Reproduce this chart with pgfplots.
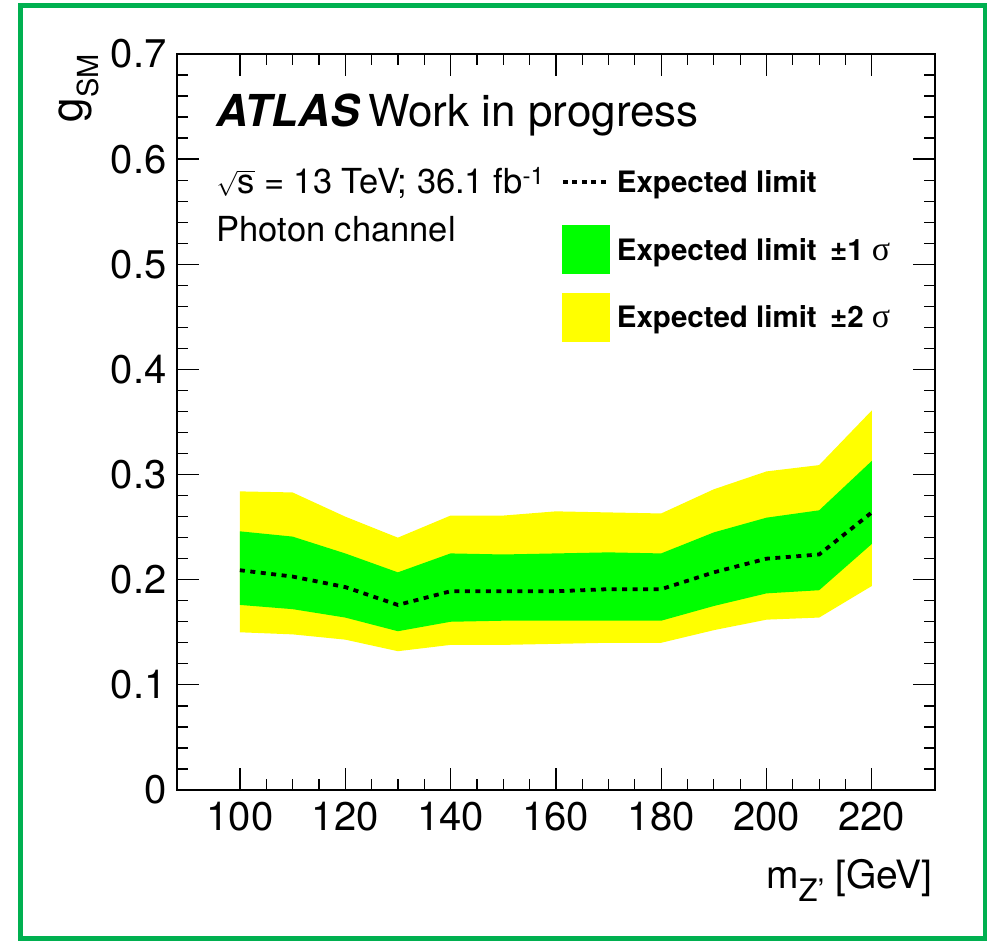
\documentclass[border=0pt]{standalone}
\usepackage{fontspec}
\setmainfont{TeX Gyre Heros}
\newfontfamily\sigmafont{Liberation Serif}
\usepackage{pgfplots}
\pgfplotsset{compat=1.18}
\usepgfplotslibrary{fillbetween}
\usepackage{pgfplotstable}

\definecolor{framegreen}{RGB}{0,176,80}
\definecolor{bandone}{RGB}{0,255,0}
\definecolor{bandtwo}{RGB}{255,255,0}

% expected limit on g_SM vs m_Z' (GeV)
\pgfplotstableread{
m    y2lo   y1lo   med    y1hi   y2hi
100  0.150  0.176  0.209  0.246  0.284
110  0.148  0.172  0.203  0.241  0.283
120  0.143  0.164  0.193  0.225  0.260
130  0.132  0.151  0.176  0.207  0.240
140  0.138  0.160  0.189  0.225  0.261
150  0.138  0.161  0.189  0.224  0.261
160  0.139  0.161  0.189  0.225  0.265
170  0.140  0.161  0.191  0.226  0.264
180  0.140  0.161  0.191  0.225  0.263
190  0.152  0.175  0.207  0.245  0.286
200  0.162  0.187  0.220  0.259  0.303
210  0.164  0.190  0.224  0.266  0.309
220  0.194  0.234  0.264  0.313  0.361
}\explim

\begin{document}
\begin{tikzpicture}
\path (0pt,0pt) rectangle (991pt,941pt);
\draw[framegreen, line width=4.5pt] (20.5pt,2.5pt) rectangle (985pt,935.3pt);
\begin{axis}[
  at={(176.7pt,151pt)}, anchor=south west,
  scale only axis, width=758.3pt, height=736pt,
  xmin=88, xmax=232, ymin=0, ymax=0.7,
  xtick={100,120,140,160,180,200,220},
  ytick={0,0.1,0.2,0.3,0.4,0.5,0.6,0.7},
  minor x tick num=3, minor y tick num=4,
  tick align=inside,
  major tick length=22pt, minor tick length=11pt,
  axis line style={line width=1.7pt},
  every tick/.style={black, line width=1.3pt},
  /pgf/number format/assume math mode=true,
  tick label style={font=\fontsize{40}{40}\selectfont, inner sep=0pt},
  yticklabel style={xshift=-10pt},
  xticklabel style={yshift=-12pt},
  xlabel={m\raisebox{-13.5pt}{\fontsize{31}{31}\selectfont Z’}~[GeV]},
  xlabel style={at={(axis description cs:0.99736,-0.1332)}, anchor=base east,
    inner sep=0pt, font=\fontsize{39}{39}\selectfont},
  ylabel={g\raisebox{-16pt}{\fontsize{29}{29}\selectfont SM}},
  ylabel style={at={(axis description cs:-0.1236,1)}, anchor=base east,
    inner sep=0pt, font=\fontsize{44}{44}\selectfont},
  legend style={draw=none, fill=none, at={(0.5068,0.859)}, anchor=north west,
    inner sep=0pt, outer sep=0pt, row sep=18.7pt, column sep=7pt,
    cells={anchor=west}, nodes={inner sep=0pt, outer sep=0pt},
    font=\fontsize{29.5}{29.5}\selectfont\bfseries},
  legend cell align=left,
  reverse legend,
]
\addplot[name path=u2, draw=none, forget plot] table[x=m, y=y2hi]{\explim};
\addplot[name path=l2, draw=none, forget plot] table[x=m, y=y2lo]{\explim};
\addplot[name path=u1, draw=none, forget plot] table[x=m, y=y1hi]{\explim};
\addplot[name path=l1, draw=none, forget plot] table[x=m, y=y1lo]{\explim};

\addplot[fill=bandtwo, draw=none,
  legend image code/.code={\fill[bandtwo] (0pt,-24.5pt) rectangle (48pt,24.5pt);}]
  fill between[of=u2 and l2];
\addlegendentry{Expected limit\hspace{0.45em}±2 {\sigmafont\mdseries\fontsize{34}{34}\selectfont σ}}

\addplot[fill=bandone, draw=none,
  legend image code/.code={\fill[bandone] (0pt,-24.5pt) rectangle (48pt,24.5pt);}]
  fill between[of=u1 and l1];
\addlegendentry{Expected limit\hspace{0.45em}±1 {\sigmafont\mdseries\fontsize{34}{34}\selectfont σ}}

\addplot[black, line width=3.8pt, dash pattern=on 5pt off 5.5pt,
  legend image code/.code={\path[draw=none, fill=none] (0pt,-24.5pt) rectangle (48pt,24.5pt);
    \draw[black, line width=3.8pt, dash pattern=on 5pt off 4.5pt] (1pt,0pt) -- (46pt,0pt);}]
  table[x=m, y=med]{\explim};
\addlegendentry{Expected limit}

\node[anchor=base west, inner sep=0pt, font=\fontsize{44}{44}\selectfont]
  at (axis description cs:0.0525,0.9008) {\textbf{\textit{ATLAS}}\hspace{8pt}Work in progress};
\node[anchor=base west, inner sep=0pt, font=\fontsize{34.5}{35}\selectfont]
  at (axis description cs:0.0525,0.8105) {$\sqrt{\mbox{s}}$ = 13 TeV; 36.1 fb\textsuperscript{-1}};
\node[anchor=base west, inner sep=0pt, font=\fontsize{34.5}{35}\selectfont]
  at (axis description cs:0.0525,0.7459) {Photon channel};
\end{axis}
\end{tikzpicture}
\end{document}
